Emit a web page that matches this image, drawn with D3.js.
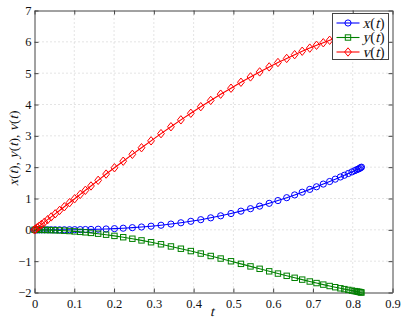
<!DOCTYPE html>
<html>
<head>
<meta charset="utf-8">
<script src="https://cdn.jsdelivr.net/npm/d3@7"></script>
<style>
  body { margin: 0; background: #fff; }
</style>
</head>
<body>
<div id="chart"></div>
<script>
// --------------------------------------
//  Data
// --------------------------------------

const tVals = [0, 0.003, 0.007, 0.012, 0.018, 0.025, 0.033, 0.042, 0.052, 0.063,
  0.075, 0.088, 0.101, 0.115, 0.128, 0.142, 0.160, 0.180, 0.201, 0.223,
  0.246, 0.269, 0.293, 0.318, 0.343, 0.368, 0.393, 0.418, 0.443, 0.468,
  0.494, 0.519, 0.543, 0.566, 0.590, 0.612, 0.634, 0.654, 0.673, 0.692,
  0.709, 0.726, 0.742, 0.756, 0.769, 0.779, 0.789, 0.798, 0.805, 0.810,
  0.814, 0.817, 0.820, 0.822];

const xVals = [0, 0, 0, 0, 0, 0, 0, 0.0004, 0.0007, 0.0012,
  0.002, 0.0033, 0.0049, 0.0073, 0.010, 0.0137, 0.0194, 0.0275, 0.0382, 0.0519,
  0.0693, 0.0904, 0.116, 0.147, 0.184, 0.225, 0.272, 0.324, 0.383, 0.447,
  0.520, 0.596, 0.675, 0.756, 0.846, 0.934, 1.026, 1.114, 1.201, 1.291,
  1.374, 1.460, 1.542, 1.617, 1.687, 1.742, 1.798, 1.849, 1.889, 1.918,
  1.941, 1.958, 1.985, 2.0];

const yVals = [0, 0, -0.0002, -0.0007, -0.0016, -0.0031, -0.0053, -0.0087, -0.0133, -0.0195,
  -0.0275, -0.0378, -0.0497, -0.0643, -0.0794, -0.0975, -0.123, -0.155, -0.193, -0.236,
  -0.284, -0.337, -0.396, -0.461, -0.530, -0.603, -0.678, -0.757, -0.835, -0.916,
  -1.003, -1.086, -1.167, -1.244, -1.324, -1.396, -1.468, -1.531, -1.589, -1.649,
  -1.699, -1.748, -1.793, -1.831, -1.866, -1.892, -1.917, -1.940, -1.956, -1.968,
  -1.977, -1.984, -1.994, -2.0];

const vVals = [0, 0.029, 0.069, 0.118, 0.177, 0.245, 0.324, 0.412, 0.510, 0.618,
  0.736, 0.865, 0.993, 1.132, 1.262, 1.40, 1.58, 1.78, 1.98, 2.19,
  2.41, 2.62, 2.84, 3.07, 3.29, 3.51, 3.72, 3.93, 4.13, 4.33,
  4.52, 4.71, 4.88, 5.04, 5.20, 5.34, 5.47, 5.59, 5.70, 5.80,
  5.89, 5.97, 6.05, 6.11, 6.17, 6.21, 6.25, 6.29, 6.32, 6.34,
  6.35, 6.36, 6.37, 6.38];

const xTicks = [0, 0.1, 0.2, 0.3, 0.4, 0.5, 0.6, 0.7, 0.8, 0.9];
const yTicks = [-2, -1, 0, 1, 2, 3, 4, 5, 6, 7];

const seriesNames = ["x", "y", "v"];
const seriesColors = ["#0000ff", "#008000", "#ff0000"];
const seriesMarkers = ["circle", "square", "diamond"];

// --------------------------------------
//  Margin and canvas
// --------------------------------------

const width = 404;
const height = 320;
const margin = {top: 10.5, right: 11.5, bottom: 27.5, left: 34.5};
const innerwidth = width - margin.left - margin.right;
const innerheight = height - margin.top - margin.bottom;
const serif = "Liberation Serif";

const svg = d3.select("#chart")
  .append("svg")
    .attr("width", width)
    .attr("height", height);

const innerChart = svg.append("g")
    .attr("transform", `translate(${margin.left}, ${margin.top})`);

// --------------------------------------
//  Scales
// --------------------------------------

const x = d3.scaleLinear().domain([0, 0.9]).range([0, innerwidth]);
const y = d3.scaleLinear().domain([-2, 7]).range([innerheight, 0]);

// --------------------------------------
//  Grid
// --------------------------------------

innerChart.append("g")
  .selectAll("line")
  .data(xTicks.slice(1, -1))
  .join("line")
    .attr("x1", d => x(d)).attr("x2", d => x(d))
    .attr("y1", 0).attr("y2", innerheight)
    .attr("stroke", "#c8c8c8")
    .attr("stroke-dasharray", "1,3");

innerChart.append("g")
  .selectAll("line")
  .data(yTicks.slice(1, -1))
  .join("line")
    .attr("y1", d => y(d)).attr("y2", d => y(d))
    .attr("x1", 0).attr("x2", innerwidth)
    .attr("stroke", "#c8c8c8")
    .attr("stroke-dasharray", "1,3");

// --------------------------------------
//  Axes
// --------------------------------------

const fmtY = d => d < 0 ? "\u2212" + Math.abs(d) : d;

const xAxis = innerChart.append("g")
    .attr("transform", `translate(0, ${innerheight})`)
    .call(d3.axisBottom(x).tickValues(xTicks).tickSizeInner(-4).tickSizeOuter(0)
      .tickPadding(7).tickFormat(d3.format("")));

const xAxisTop = innerChart.append("g")
    .call(d3.axisTop(x).tickValues(xTicks).tickSizeInner(-4).tickSizeOuter(0)
      .tickFormat(""));

const yAxis = innerChart.append("g")
    .call(d3.axisLeft(y).tickValues(yTicks).tickSizeInner(-4).tickSizeOuter(0)
      .tickPadding(3).tickFormat(fmtY));

const yAxisRight = innerChart.append("g")
    .attr("transform", `translate(${innerwidth}, 0)`)
    .call(d3.axisRight(y).tickValues(yTicks).tickSizeInner(-4).tickSizeOuter(0)
      .tickFormat(""));

[xAxis, xAxisTop, yAxis, yAxisRight].forEach(a => {
  a.attr("font-family", serif).attr("font-size", 12.5);
  a.select(".domain").attr("stroke", "#444");
  a.selectAll(".tick line").attr("stroke", "#444");
  a.selectAll(".tick text")
    .style("font-family", serif)
    .style("font-size", "12.5px")
    .attr("fill", "#111");
});

// --------------------------------------
//  Data drawing
// --------------------------------------

const series = [xVals, yVals, vVals];

const marker = (sel, type, color) => {
  if (type === "circle") {
    sel.append("circle").attr("r", 3.1);
  } else if (type === "square") {
    sel.append("rect").attr("x", -2.7).attr("y", -2.7).attr("width", 5.4).attr("height", 5.4);
  } else {
    sel.append("path").attr("d", "M0,-4.2L3.4,0L0,4.2L-3.4,0Z");
  }
  sel.selectAll("*")
    .attr("fill", "none")
    .attr("stroke", color)
    .attr("stroke-width", 1);
};

const line = d3.line()
  .x(d => x(d[0]))
  .y(d => y(d[1]));

series.forEach((vals, i) => {
  const pts = tVals.map((t, k) => [t, vals[k]]);
  const g = innerChart.append("g");
  g.append("path")
    .datum(pts)
    .attr("d", line)
    .attr("fill", "none")
    .attr("stroke", seriesColors[i])
    .attr("stroke-width", 1.1);
  g.selectAll(".m")
    .data(pts)
    .join("g")
      .attr("class", "m")
      .attr("transform", d => `translate(${x(d[0])}, ${y(d[1])})`)
      .each(function() { marker(d3.select(this), seriesMarkers[i], seriesColors[i]); });
});

// --------------------------------------
//  Math-style labels (slanted letters, upright brackets)
// --------------------------------------

// pieces: [text, isItalic]; returns total width
const mathText = (g, pieces, size) => {
  let cx = 0;
  pieces.forEach(([s, it]) => {
    const t = g.append("text")
      .style("font-family", serif)
      .style("font-size", size + "px")
      .attr("fill", "#111")
      .style("white-space", "pre")
      .text(s);
    t.attr("transform", it ? `translate(${cx}, 0) skewX(-14)` : `translate(${cx}, 0)`);
    cx += t.node().getComputedTextLength() + (it ? 0.6 : 0);
  });
  return cx;
};

const labelPieces = names => {
  const out = [];
  names.forEach((n, i) => {
    out.push([n, true], ["(", false], ["t", true], [i < names.length - 1 ? "), " : ")", false]);
  });
  return out;
};

const tLab = svg.append("g").attr("transform", "translate(210, 316)");
mathText(tLab, [["t", true]], 14);

const yLabOuter = svg.append("g")
    .attr("transform", `translate(18, ${margin.top + y(2.6)}) rotate(-90)`);
const yLab = yLabOuter.append("g");
const yw = mathText(yLab, labelPieces(seriesNames), 13.5);
yLab.attr("transform", `translate(${-yw / 2}, 0)`);

// --------------------------------------
//  Legend
// --------------------------------------

const legend = svg.append("g").attr("transform", "translate(332.5, 13.5)");

legend.append("rect")
    .attr("width", 56)
    .attr("height", 46)
    .attr("fill", "#fff")
    .attr("stroke", "#444");

seriesNames.forEach((n, i) => {
  const row = legend.append("g").attr("transform", `translate(0, ${9.5 + i * 14.5})`);
  row.append("line")
    .attr("x1", 4).attr("x2", 27)
    .attr("stroke", seriesColors[i])
    .attr("stroke-width", 1.1);
  const m = row.append("g").attr("transform", "translate(15.5, 0)");
  marker(m, seriesMarkers[i], seriesColors[i]);
  const tx = row.append("g").attr("transform", "translate(30, 4.5)");
  mathText(tx, labelPieces([n]), 14.5);
});
</script>
</body>
</html>
